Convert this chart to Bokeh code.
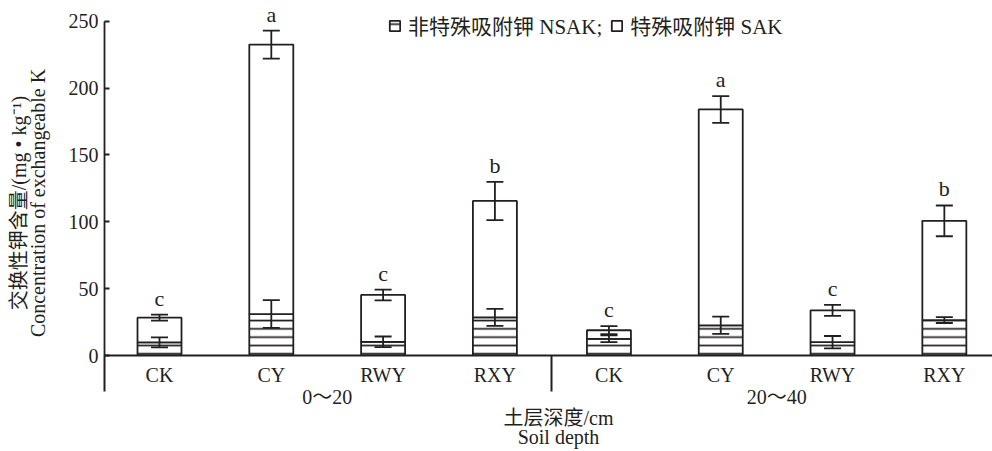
from bokeh.plotting import figure
from bokeh.models import (ColumnDataSource, Range1d, LinearAxis, FixedTicker,
                          Whisker, TeeHead, Legend, LegendItem)
from bokeh.core.properties import value
from bokeh.embed import file_html
from bokeh.resources import INLINE

# ---------------- data ----------------
depths = ["0～20", "20～40"]
treatments = ["CK", "CY", "RWY", "RXY"]
# order: depth 0~20 (CK, CY, RWY, RXY), then depth 20~40 (CK, CY, RWY, RXY)
nsak = [9.8, 31.0, 10.2, 28.5, 12.5, 22.6, 10.0, 26.5]
nsak_err = [3.7, 10.4, 4.0, 6.3, 2.5, 6.5, 4.6, 2.2]
sak = [18.5, 201.5, 35.1, 87.1, 6.4, 161.4, 23.8, 74.2]
total_err = [2.2, 10.5, 4.0, 14.3, 3.0, 10.0, 4.1, 11.5]
letters = ["c", "a", "c", "b", "c", "a", "c", "b"]
y_ticks = [0, 50, 100, 150, 200, 250]

# ---------------- layout helpers ----------------
INK = "#231f20"
FONT = "'Liberation Serif', 'Noto Sans CJK SC'"
NB = "\u00a0"
GAP = 0.02
n_t = len(treatments)
xs = [d * (n_t + GAP) + t for d in range(len(depths)) for t in range(n_t)]
labels = [treatments[t] for d in range(len(depths)) for t in range(n_t)]
group_centers = [(xs[d * n_t] + xs[d * n_t + n_t - 1]) / 2 for d in range(len(depths))]
separators = [(xs[d * n_t + n_t - 1] + xs[(d + 1) * n_t]) / 2 for d in range(len(depths) - 1)]

W, H = 992, 451
LEFT, RIGHT, TOP, BOTTOM = 104, 0, 0, 95
px_per_unit = 111.8
x_start = -0.492
x_end = x_start + (W - LEFT - RIGHT) / px_per_unit
y_end = 265.5
SEP_LEN = 36

tops = [n + s for n, s in zip(nsak, sak)]
src = ColumnDataSource(dict(
    x=xs,
    nsak=nsak,
    top=tops,
    n_lo=[n - e for n, e in zip(nsak, nsak_err)],
    n_hi=[n + e for n, e in zip(nsak, nsak_err)],
    t_lo=[t - e for t, e in zip(tops, total_err)],
    t_hi=[t + e for t, e in zip(tops, total_err)],
    letter=letters,
))

p = figure(width=W, height=H, output_backend="svg", toolbar_location=None,
           x_range=Range1d(x_start, x_end), y_range=Range1d(0, y_end),
           x_axis_type=None, y_axis_type=None,
           min_border_left=LEFT, min_border_right=RIGHT,
           min_border_top=TOP, min_border_bottom=BOTTOM)
p.outline_line_color = None
p.xgrid.visible = False
p.ygrid.visible = False
p.background_fill_color = "white"
p.border_fill_color = "white"

BW = 44 / px_per_unit
r_n = p.vbar(x="x", bottom=0, top="nsak", width=BW, source=src,
             fill_color="white", line_color=INK, line_width=1.8,
             hatch_pattern="horizontal_line", hatch_scale=8.3,
             hatch_weight=1.7, hatch_color=INK)
r_s = p.vbar(x="x", bottom="nsak", top="top", width=BW, source=src,
             fill_color="white", line_color=INK, line_width=1.8)

for lo, hi in (("n_lo", "n_hi"), ("t_lo", "t_hi")):
    w = Whisker(source=src, base="x", lower=lo, upper=hi, level="overlay",
                line_color=INK, line_width=1.8,
                upper_head=TeeHead(size=17, line_color=INK, line_width=1.8),
                lower_head=TeeHead(size=17, line_color=INK, line_width=1.8))
    p.add_layout(w)

p.text(x="x", y="t_hi", text="letter", source=src, y_offset=-4,
       text_align="center", text_baseline="bottom",
       text_font=value(FONT), text_font_size="22px", text_color=INK)

# y axis (line runs a little below zero, like the reference)
ylab_cn = "交换性钾含量/(mg • kg⁻¹)" + NB * 10
ylab_en = "Concentration of exchangeable K" + NB * 10
yaxis = LinearAxis(ticker=FixedTicker(ticks=y_ticks, minor_ticks=[]),
                   bounds=(-15, y_ticks[-1]),
                   axis_label=ylab_cn + "\n" + ylab_en,
                   axis_label_text_font=FONT, axis_label_text_font_size="20px",
                   axis_label_text_font_style="normal", axis_label_text_color=INK,
                   axis_label_text_line_height=0.85, axis_label_standoff=17,
                   major_label_text_font=FONT, major_label_text_font_size="20px",
                   major_label_text_color=INK, major_label_standoff=6,
                   major_tick_in=5, major_tick_out=0, major_tick_line_width=1.8,
                   major_tick_line_color=INK, minor_tick_line_color=None,
                   axis_line_color=INK, axis_line_width=1.8)
p.add_layout(yaxis, "left")

# x axis 1: treatments, with group separators drawn as long minor ticks
xaxis1 = LinearAxis(ticker=FixedTicker(ticks=xs, minor_ticks=[x_start + 0.001] + separators),
                    major_label_overrides={x: lab for x, lab in zip(xs, labels)},
                    major_label_text_font=FONT, major_label_text_font_size="20px",
                    major_label_text_color=INK, major_label_standoff=8 - SEP_LEN,
                    major_tick_in=0, major_tick_out=0, major_tick_line_color=None,
                    minor_tick_in=0, minor_tick_out=SEP_LEN, minor_tick_line_width=2,
                    minor_tick_line_color=INK,
                    axis_line_color=INK, axis_line_width=1.8)
p.add_layout(xaxis1, "below")

# x axis 2: soil depth groups + title
xlab_cn = NB * 4 + "土层深度/cm"
xlab_en = NB * 4 + "Soil depth"
xaxis2 = LinearAxis(ticker=FixedTicker(ticks=group_centers, minor_ticks=[]),
                    major_label_overrides={x: lab for x, lab in zip(group_centers, depths)},
                    major_label_text_font=FONT, major_label_text_font_size="20px",
                    major_label_text_color=INK, major_label_standoff=-3,
                    major_tick_in=0, major_tick_out=0, major_tick_line_color=None,
                    minor_tick_line_color=None, axis_line_color=None,
                    axis_label=xlab_cn + "\n" + xlab_en,
                    axis_label_text_font=FONT, axis_label_text_font_size="20px",
                    axis_label_text_font_style="normal", axis_label_text_color=INK,
                    axis_label_text_line_height=0.9, axis_label_standoff=-4)
p.add_layout(xaxis2, "below")

legend = Legend(items=[LegendItem(label="非特殊吸附钾 NSAK;", renderers=[r_n]),
                       LegendItem(label="特殊吸附钾 SAK", renderers=[r_s])],
                orientation="horizontal", location=(284, 315),
                padding=0, margin=0, spacing=8, label_standoff=7,
                glyph_width=13, glyph_height=13,
                border_line_color=None, background_fill_alpha=0,
                label_text_font=FONT, label_text_font_size="21px",
                label_text_color=INK)
p.add_layout(legend)

open("out.html", "w").write(file_html(p, INLINE))
